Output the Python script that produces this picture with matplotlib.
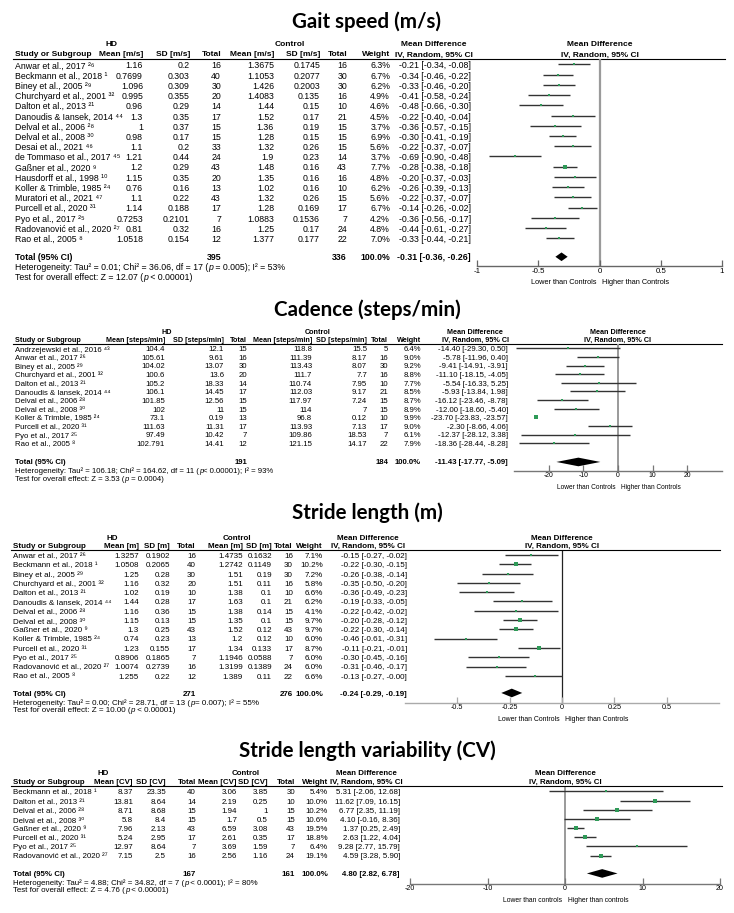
import matplotlib
matplotlib.use('Agg')
import matplotlib.pyplot as plt
import numpy as np

plt.rcParams['font.family'] = ['Liberation Sans', 'DejaVu Sans']

# ---------------- DATA ----------------
# Gait speed
gait_studies = ["Anwar et al., 2017", "Beckmann et al., 2018", "Biney et al., 2005", "Churchyard et al., 2001",
                "Dalton et al., 2013", "Danoudis & Iansek, 2014", "Delval et al., 2006", "Delval et al., 2008",
                "Desai et al., 2021", "de Tommaso et al., 2017", "Gaßner et al., 2020", "Hausdorff et al., 1998",
                "Koller & Trimble, 1985", "Muratori et al., 2021", "Purcell et al., 2020", "Pyo et al., 2017",
                "Radovanović et al., 2020", "Rao et al., 2005"]
gait_refs = [26, 1, 29, 32, 21, 44, 28, 30, 46, 45, 9, 10, 24, 47, 31, 25, 27, 8]
gait_hd_mean = [1.16, 0.7699, 1.096, 0.995, 0.96, 1.3, 1, 0.98, 1.1, 1.21, 1.2, 1.15, 0.76, 1.1, 1.14, 0.7253, 0.81, 1.0518]
gait_hd_sd = [0.2, 0.303, 0.309, 0.355, 0.29, 0.35, 0.37, 0.17, 0.2, 0.44, 0.29, 0.35, 0.16, 0.22, 0.188, 0.2101, 0.32, 0.154]
gait_hd_n = [16, 40, 30, 20, 14, 17, 15, 15, 33, 24, 43, 20, 13, 43, 17, 7, 16, 12]
gait_ct_mean = [1.3675, 1.1053, 1.426, 1.4083, 1.44, 1.52, 1.36, 1.28, 1.32, 1.9, 1.48, 1.35, 1.02, 1.32, 1.28, 1.0883, 1.25, 1.377]
gait_ct_sd = [0.1745, 0.2077, 0.2003, 0.135, 0.15, 0.17, 0.19, 0.15, 0.26, 0.23, 0.16, 0.16, 0.16, 0.26, 0.169, 0.1536, 0.17, 0.177]
gait_ct_n = [16, 30, 30, 16, 10, 21, 15, 15, 15, 14, 43, 16, 10, 15, 17, 7, 24, 22]
gait_weight = [6.3, 6.7, 6.2, 4.9, 4.6, 4.5, 3.7, 6.9, 5.6, 3.7, 7.7, 4.8, 6.2, 5.6, 6.7, 4.2, 4.8, 7.0]
gait_md = [-0.21, -0.34, -0.33, -0.41, -0.48, -0.22, -0.36, -0.30, -0.22, -0.69, -0.28, -0.20, -0.26, -0.22, -0.14, -0.36, -0.44, -0.33]
gait_lo = [-0.34, -0.46, -0.46, -0.58, -0.66, -0.40, -0.57, -0.41, -0.37, -0.90, -0.38, -0.37, -0.39, -0.37, -0.26, -0.56, -0.61, -0.44]
gait_hi = [-0.08, -0.22, -0.20, -0.24, -0.30, -0.04, -0.15, -0.19, -0.07, -0.48, -0.18, -0.03, -0.13, -0.07, -0.02, -0.17, -0.27, -0.21]
gait_total = [395, 336, -0.31, -0.36, -0.26]
gait_het = "Heterogeneity: Tau² = 0.01; Chi² = 36.06, df = 17 (|p| = 0.005); I² = 53%"
gait_test = "Test for overall effect: Z = 12.07 (|p| < 0.00001)"
gait_ticks = [-1, -0.5, 0, 0.5, 1]

# Cadence
cad_studies = ["Andrzejewski et al., 2016", "Anwar et al., 2017", "Biney et al., 2005", "Churchyard et al., 2001",
               "Dalton et al., 2013", "Danoudis & Iansek, 2014", "Delval et al., 2006", "Delval et al., 2008",
               "Koller & Trimble, 1985", "Purcell et al., 2020", "Pyo et al., 2017", "Rao et al., 2005"]
cad_refs = [43, 26, 29, 32, 21, 44, 28, 30, 24, 31, 25, 8]
cad_hd_mean = [104.4, 105.61, 104.02, 100.6, 105.2, 106.1, 101.85, 102, 73.1, 111.63, 97.49, 102.791]
cad_hd_sd = [12.1, 9.61, 13.07, 13.6, 18.33, 14.45, 12.56, 11, 0.19, 11.31, 10.42, 14.41]
cad_hd_n = [15, 16, 30, 20, 14, 17, 15, 15, 13, 17, 7, 12]
cad_ct_mean = [118.8, 111.39, 113.43, 111.7, 110.74, 112.03, 117.97, 114, 96.8, 113.93, 109.86, 121.15]
cad_ct_sd = [15.5, 8.17, 8.07, 7.7, 7.95, 9.17, 7.24, 7, 0.12, 7.13, 18.53, 14.17]
cad_ct_n = [5, 16, 30, 16, 10, 21, 15, 15, 10, 17, 7, 22]
cad_weight = [6.4, 9.0, 9.2, 8.8, 7.7, 8.5, 8.7, 8.9, 9.9, 9.0, 6.1, 7.9]
cad_md = [-14.40, -5.78, -9.41, -11.10, -5.54, -5.93, -16.12, -12.00, -23.70, -2.30, -12.37, -18.36]
cad_lo = [-29.30, -11.96, -14.91, -18.15, -16.33, -13.84, -23.46, -18.60, -23.83, -8.66, -28.12, -28.44]
cad_hi = [0.50, 0.40, -3.91, -4.05, 5.25, 1.98, -8.78, -5.40, -23.57, 4.06, 3.38, -8.28]
cad_total = [191, 184, -11.43, -17.77, -5.09]
cad_het = "Heterogeneity: Tau² = 106.18; Chi² = 164.62, df = 11 (|p|< 0.00001); I² = 93%"
cad_test = "Test for overall effect: Z = 3.53 (|p| = 0.0004)"
cad_ticks = [-20, -10, 0, 10, 20]

# Stride length
sl_studies = ["Anwar et al., 2017", "Beckmann et al., 2018", "Biney et al., 2005", "Churchyard et al., 2001",
              "Dalton et al., 2013", "Danoudis & Iansek, 2014", "Delval et al., 2006", "Delval et al., 2008",
              "Gaßner et al., 2020", "Koller & Trimble, 1985", "Purcell et al., 2020", "Pyo et al., 2017",
              "Radovanović et al., 2020", "Rao et al., 2005"]
sl_refs = [26, 1, 29, 32, 21, 44, 28, 30, 9, 24, 31, 25, 27, 8]
sl_hd_mean = [1.3257, 1.0508, 1.25, 1.16, 1.02, 1.44, 1.16, 1.15, 1.3, 0.74, 1.23, 0.8906, 1.0074, 1.255]
sl_hd_sd = [0.1902, 0.2065, 0.28, 0.32, 0.19, 0.28, 0.36, 0.13, 0.25, 0.23, 0.155, 0.1865, 0.2739, 0.22]
sl_hd_n = [16, 40, 30, 20, 10, 17, 15, 15, 43, 13, 17, 7, 16, 12]
sl_ct_mean = [1.4735, 1.2742, 1.51, 1.51, 1.38, 1.63, 1.38, 1.35, 1.52, 1.2, 1.34, 1.1946, 1.3199, 1.389]
sl_ct_sd = [0.1632, 0.1149, 0.19, 0.11, 0.1, 0.1, 0.14, 0.1, 0.12, 0.12, 0.133, 0.0588, 0.1389, 0.11]
sl_ct_n = [16, 30, 30, 16, 10, 21, 15, 15, 43, 10, 17, 7, 24, 22]
sl_weight = [7.1, 10.2, 7.2, 5.8, 6.6, 6.2, 4.1, 9.7, 9.7, 6.0, 8.7, 6.0, 6.0, 6.6]
sl_md = [-0.15, -0.22, -0.26, -0.35, -0.36, -0.19, -0.22, -0.20, -0.22, -0.46, -0.11, -0.30, -0.31, -0.13]
sl_lo = [-0.27, -0.30, -0.38, -0.50, -0.49, -0.33, -0.42, -0.28, -0.30, -0.61, -0.21, -0.45, -0.46, -0.27]
sl_hi = [-0.02, -0.15, -0.14, -0.20, -0.23, -0.05, -0.02, -0.12, -0.14, -0.31, -0.01, -0.16, -0.17, -0.00]
sl_total = [271, 276, -0.24, -0.29, -0.19]
sl_het = "Heterogeneity: Tau² = 0.00; Chi² = 28.71, df = 13 (|p|= 0.007); I² = 55%"
sl_test = "Test for overall effect: Z = 10.00 (|p| < 0.00001)"
sl_ticks = [-0.5, -0.25, 0, 0.25, 0.5]

# Stride length variability
sv_studies = ["Beckmann et al., 2018", "Dalton et al., 2013", "Delval et al., 2006", "Delval et al., 2008",
              "Gaßner et al., 2020", "Purcell et al., 2020", "Pyo et al., 2017", "Radovanović et al., 2020"]
sv_refs = [1, 21, 28, 30, 9, 31, 25, 27]
sv_hd_mean = [8.37, 13.81, 8.71, 5.8, 7.96, 5.24, 12.97, 7.15]
sv_hd_sd = [23.35, 8.64, 8.68, 8.4, 2.13, 2.95, 8.64, 2.5]
sv_hd_n = [40, 14, 15, 15, 43, 17, 7, 16]
sv_ct_mean = [3.06, 2.19, 1.94, 1.7, 6.59, 2.61, 3.69, 2.56]
sv_ct_sd = [3.85, 0.25, 1, 0.5, 3.08, 0.35, 1.59, 1.16]
sv_ct_n = [30, 10, 15, 15, 43, 17, 7, 24]
sv_weight = [5.4, 10.0, 10.2, 10.6, 19.5, 18.8, 6.4, 19.1]
sv_md = [5.31, 11.62, 6.77, 4.10, 1.37, 2.63, 9.28, 4.59]
sv_lo = [-2.06, 7.09, 2.35, -0.16, 0.25, 1.22, 2.77, 3.28]
sv_hi = [12.68, 16.15, 11.19, 8.36, 2.49, 4.04, 15.79, 5.90]
sv_total = [167, 161, 4.80, 2.82, 6.78]
sv_het = "Heterogeneity: Tau² = 4.88; Chi² = 34.82, df = 7 (|p| < 0.0001); I² = 80%"
sv_test = "Test for overall effect: Z = 4.76 (|p| < 0.00001)"
sv_ticks = [-20, -10, 0, 10, 20]

# ---------------- LAYOUT ----------------
W, H = 734, 913
fig = plt.figure(figsize=(W / 100, H / 100), dpi=100)
fig.patch.set_facecolor('white')
axt = fig.add_axes([0, 0, 1, 1])
axt.set_xlim(0, W)
axt.set_ylim(H, 0)
axt.axis('off')

SQ = '#2f9a58'
CI = '#333333'
SUP = str.maketrans('0123456789', '⁰¹²³⁴⁵⁶⁷⁸⁹')


def fnum(v):
    return f"{v:g}"


def fmd(m, lo, hi):
    return f"{m:.2f} [{lo:.2f}, {hi:.2f}]"


def rich(x, y, s, fs):
    """Text with '|'-delimited italic segments, chained left to right."""
    parts = s.split('|')
    prev = axt.text(x, y, parts[0], ha='left', va='center_baseline', fontsize=fs)
    for k, seg in enumerate(parts[1:], start=1):
        prev = axt.annotate(seg, xy=(1, 0), xycoords=prev, xytext=(0, 0), textcoords='offset points',
                            ha='left', va='bottom', fontsize=fs,
                            style='italic' if k % 2 == 1 else 'normal')


def panel(p, studies, refs, hm, hs, hn, cm, cs, cn, wt, md, lo, hi, tot, het, test, ticks):
    fs = p['fs']
    hfs = p.get('hfs', fs)
    n = len(studies)
    t = axt.text
    t(367, p['title_base'], p['title'], ha='center', va='baseline', fontsize=14.8,
      fontweight='bold', family=['Lato', 'DejaVu Sans'])
    bold = dict(fontsize=fs, fontweight='bold', va='center_baseline')
    hbold = dict(fontsize=hfs, fontweight='bold', va='center_baseline')
    t(p['hd_x'], p['hd_y'], 'HD', ha='center', **hbold)
    t(p['ct_x'], p['hd_y'], 'Control', ha='center', **hbold)
    t(p['mdh_x'], p['hd_y'], 'Mean Difference', ha='center', **hbold)
    t(p['fhx'], p['hd_y'], 'Mean Difference', ha='center', **hbold)
    t(p['name_x'], p['col_y'], 'Study or Subgroup', ha='left', **hbold)
    u = p['unit']
    hdrs = [f'Mean [{u}]', f'SD [{u}]', 'Total', f'Mean [{u}]', f'SD [{u}]', 'Total', 'Weight']
    for lab, x in zip(hdrs, p['cols'][:7]):
        t(x, p['col_y'], lab, ha='right', **hbold)
    t(p['mdh_x'], p['col_y'], 'IV, Random, 95% CI', ha='center', **hbold)
    t(p['fhx'], p['col_y'], 'IV, Random, 95% CI', ha='center', **hbold)
    axt.plot([p['name_x'] - 2, p['line_x1']], [p['line_y']] * 2, color='black', lw=0.8)

    reg = dict(fontsize=fs, va='center_baseline')
    c = p['cols']
    for i in range(n):
        y = p['first'] + i * p['sp']
        t(p['name_x'], y, studies[i] + ' ' + str(refs[i]).translate(SUP), ha='left', **reg)
        vals = [fnum(hm[i]), fnum(hs[i]), str(hn[i]), fnum(cm[i]), fnum(cs[i]), str(cn[i]),
                f"{wt[i]:.1f}%", fmd(md[i], lo[i], hi[i])]
        for v, x in zip(vals, c):
            t(x, y, v, ha='right', **reg)
    ty = p['total_y']
    t(p['name_x'], ty, 'Total (95% CI)', ha='left', **bold)
    t(c[2], ty, str(tot[0]), ha='right', **bold)
    t(c[5], ty, str(tot[1]), ha='right', **bold)
    t(c[6], ty, '100.0%', ha='right', **bold)
    t(c[7], ty, fmd(tot[2], tot[3], tot[4]), ha='right', **bold)
    rich(p['name_x'], p['het_y'], het, fs)
    rich(p['name_x'], p['test_y'], test, fs)

    # forest plot axes
    x0, x1 = p['fx']
    fa = fig.add_axes([x0 / W, 1 - p['axis_y'] / H, (x1 - x0) / W, (p['axis_y'] - p['line_y']) / H])
    fa.patch.set_alpha(0)
    fa.set_xlim(p['xlim'])
    ybot = (p['axis_y'] - p['first']) / p['sp']
    ytop = (p['line_y'] + 0.6 - p['first']) / p['sp']
    fa.set_ylim(ybot, ytop)
    rows = np.arange(n)
    fa.axvline(0, color=p['zero_col'], lw=p['zero_lw'], zorder=1)
    fa.hlines(rows, lo, hi, colors=CI, lw=1.0, zorder=2)
    for r, m, w in zip(rows, md, wt):
        fa.plot(m, r, marker='s', ms=p['sq'] * np.sqrt(w), color=SQ, mec=SQ, mew=0, zorder=3)
    tr = (p['total_y'] - p['first']) / p['sp']
    dh = 4.3 / p['sp']
    fa.fill([tot[3], tot[2], tot[4], tot[2]], [tr, tr - dh, tr, tr + dh], color='black', lw=0, zorder=4)
    for s in ['top', 'left', 'right']:
        fa.spines[s].set_visible(False)
    fa.spines['bottom'].set_color(p['axis_col'])
    fa.spines['bottom'].set_linewidth(1.0)
    fa.set_yticks([])
    fa.set_xticks(ticks)
    fa.set_xticklabels([fnum(v) for v in ticks], fontsize=fs * 0.9)
    fa.tick_params(axis='x', direction='in', length=4, width=0.9, color=p['axis_col'], pad=1.2)
    lab_fs = fs * 0.85
    fa.annotate(p['lower'], xy=(0, 0), xycoords=('data', 'axes fraction'), xytext=(-2, -11.5),
                textcoords='offset points', ha='right', va='center_baseline', fontsize=lab_fs)
    fa.annotate(p['higher'], xy=(0, 0), xycoords=('data', 'axes fraction'), xytext=(2, -11.5),
                textcoords='offset points', ha='left', va='center_baseline', fontsize=lab_fs)


gait_p = dict(title='Gait speed (m/s)', title_base=27.5, hd_y=43, col_y=54, line_y=59.5, first=65, sp=10.2,
              total_y=256.8, het_y=266.8, test_y=276.8, axis_y=266, fs=6.3, hfs=6.0, unit='m/s',
              cols=[143, 190, 221, 274, 320, 347, 390, 471], name_x=15, hd_x=112, ct_x=290, mdh_x=434,
              fhx=600, fx=(477, 722), line_x1=725, xlim=(-1, 1), zero_col='#9a9a9a', zero_lw=1.6,
              axis_col='#666666', sq=0.8, lower='Lower than Controls', higher='Higher than Controls')
cad_p = dict(title='Cadence (steps/min)', title_base=316, hd_y=331, col_y=339.5, line_y=344, first=348.8, sp=8.6,
             total_y=462, het_y=470.5, test_y=478.5, axis_y=470.7, fs=5.55, hfs=5.2, unit='steps/min',
             cols=[165, 224, 247, 312, 367, 388, 421, 508], name_x=15, hd_x=167, ct_x=318, mdh_x=475,
             fhx=618, fx=(514, 722), line_x1=722, xlim=(-30, 30), zero_col='#9a9a9a', zero_lw=1.4,
             axis_col='#777777', sq=0.7, lower='Lower than Controls', higher='Higher than Controls')
sl_p = dict(title='Stride length (m)', title_base=519, hd_y=537, col_y=545.5, line_y=550.5, first=555.5, sp=9.27,
            total_y=693, het_y=701.7, test_y=710, axis_y=702.7, fs=5.8, unit='m',
            cols=[139, 170, 196, 243, 272, 293, 323, 407], name_x=13, hd_x=112, ct_x=237, mdh_x=368,
            fhx=562, fx=(405, 719), line_x1=720, xlim=(-0.75, 0.75), zero_col='#222222', zero_lw=0.9,
            axis_col='#aaaaaa', sq=0.8, lower='Lower than Controls', higher='Higher than Controls')
sv_p = dict(title='Stride length variability (CV)', title_base=757, hd_y=772.5, col_y=781, line_y=786.5, first=792,
            sp=9.1, total_y=873.5, het_y=881.7, test_y=889.5, axis_y=883.5, fs=5.7, unit='CV',
            cols=[133, 166, 196, 237, 268, 295, 328, 400], name_x=13, hd_x=103, ct_x=246, mdh_x=366,
            fhx=565, fx=(410, 720), line_x1=722, xlim=(-20, 20), zero_col='#9a9a9a', zero_lw=1.4,
            axis_col='#777777', sq=0.8, lower='Lower than controls', higher='Higher than controls')

panel(gait_p, gait_studies, gait_refs, gait_hd_mean, gait_hd_sd, gait_hd_n, gait_ct_mean, gait_ct_sd, gait_ct_n,
      gait_weight, gait_md, gait_lo, gait_hi, gait_total, gait_het, gait_test, gait_ticks)
panel(cad_p, cad_studies, cad_refs, cad_hd_mean, cad_hd_sd, cad_hd_n, cad_ct_mean, cad_ct_sd, cad_ct_n,
      cad_weight, cad_md, cad_lo, cad_hi, cad_total, cad_het, cad_test, cad_ticks)
panel(sl_p, sl_studies, sl_refs, sl_hd_mean, sl_hd_sd, sl_hd_n, sl_ct_mean, sl_ct_sd, sl_ct_n,
      sl_weight, sl_md, sl_lo, sl_hi, sl_total, sl_het, sl_test, sl_ticks)
panel(sv_p, sv_studies, sv_refs, sv_hd_mean, sv_hd_sd, sv_hd_n, sv_ct_mean, sv_ct_sd, sv_ct_n,
      sv_weight, sv_md, sv_lo, sv_hi, sv_total, sv_het, sv_test, sv_ticks)

fig.savefig('out.png', dpi=100, facecolor='white')
